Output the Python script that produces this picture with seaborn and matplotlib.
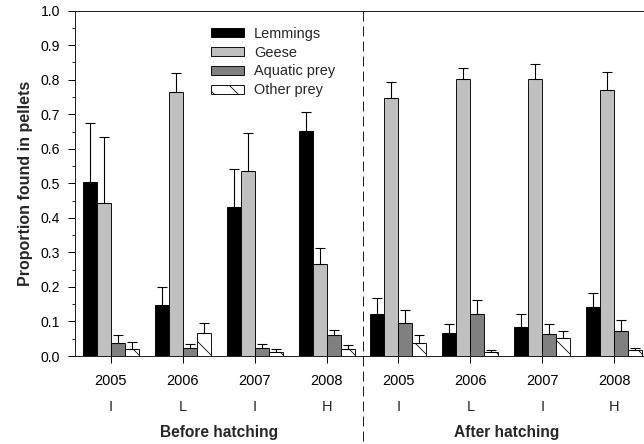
import numpy as np
import pandas as pd
import matplotlib
matplotlib.use("Agg")
import matplotlib.pyplot as plt
from matplotlib.lines import Line2D
import seaborn as sns

# ---- data ----
keys = ["B2005", "B2006", "B2007", "B2008", "A2005", "A2006", "A2007", "A2008"]
years = ["2005", "2006", "2007", "2008", "2005", "2006", "2007", "2008"]
classes = ["I", "L", "I", "H", "I", "L", "I", "H"]
periods = ["Before hatching", "After hatching"]
series = ["Lemmings", "Geese", "Aquatic prey", "Other prey"]

lemmings = [0.505, 0.148, 0.432, 0.653, 0.122, 0.067, 0.084, 0.141]
lemmings_se = [0.171, 0.052, 0.110, 0.055, 0.045, 0.027, 0.037, 0.042]
geese = [0.442, 0.766, 0.536, 0.267, 0.747, 0.803, 0.802, 0.770]
geese_se = [0.191, 0.053, 0.111, 0.046, 0.047, 0.031, 0.045, 0.052]
aquatic = [0.037, 0.022, 0.023, 0.060, 0.096, 0.121, 0.065, 0.072]
aquatic_se = [0.023, 0.013, 0.011, 0.014, 0.038, 0.041, 0.028, 0.033]
other = [0.019, 0.066, 0.012, 0.019, 0.039, 0.012, 0.051, 0.017]
other_se = [0.021, 0.031, 0.009, 0.013, 0.022, 0.006, 0.021, 0.007]

values = [lemmings, geese, aquatic, other]
errors = [lemmings_se, geese_se, aquatic_se, other_se]
colors = ["#000000", "#c0c0c0", "#808080", "#ffffff"]

rows = []
for s, vals in zip(series, values):
    for k, v in zip(keys, vals):
        rows.append({"key": k, "series": s, "value": v})
df = pd.DataFrame(rows)

# ---- figure ----
DPI = 72
W, H = 644, 444
sns.set_style("ticks")
plt.rcParams["font.family"] = ["Liberation Sans", "DejaVu Sans"]
plt.rcParams["hatch.linewidth"] = 0.8

fig = plt.figure(figsize=(W / DPI, H / DPI), dpi=DPI)
ax_left, ax_right, ax_bottom, ax_top = 75, 650, 356, 10.7
ax = fig.add_axes([ax_left / W, (H - ax_bottom) / H,
                   (ax_right - ax_left) / W, (ax_bottom - ax_top) / H])

sns.barplot(data=df, x="key", y="value", hue="series", order=keys,
            hue_order=series, palette=colors, width=0.78, gap=0,
            edgecolor="black", linewidth=0.9, errorbar=None,
            legend=False, ax=ax, saturation=1)

bar_containers = list(ax.containers)
for i, cont in enumerate(bar_containers):
    if series[i] == "Other prey":
        for p in cont.patches:
            p.set_hatch("\\")
    xs = [p.get_x() + p.get_width() / 2 for p in cont.patches]
    ys = [p.get_height() for p in cont.patches]
    ax.errorbar(xs, ys, yerr=[np.zeros(len(ys)), errors[i]], fmt="none",
                ecolor="black", elinewidth=1.1, capsize=5, capthick=1.1,
                zorder=3)

ax.set_xlim(-0.5, 7.5)
ax.set_ylim(0, 1.0)
ax.set_yticks(np.arange(0, 1.01, 0.1))
ax.set_yticks(np.arange(0.05, 1.0, 0.1), minor=True)
ax.yaxis.set_major_formatter(matplotlib.ticker.FormatStrFormatter("%.1f"))
ax.set_xticks(range(len(keys)))
ax.set_xticklabels(years)
ax.tick_params(axis="y", which="major", direction="out", length=7.5, width=1,
               labelsize=14, pad=7.5, colors="black")
ax.tick_params(axis="y", which="minor", direction="out", length=3.5, width=1)
ax.tick_params(axis="x", which="major", direction="out", length=7, width=1,
               labelsize=14.5, pad=11, colors="black")
for sp in ax.spines.values():
    sp.set_linewidth(1.0)
    sp.set_color("#222222")

ax.set_xlabel("")
ax.set_ylabel("Proportion found in pellets", fontsize=16, fontweight="bold",
              labelpad=7)

trans = ax.get_xaxis_transform()
for i, c in enumerate(classes):
    ax.text(i, -0.1468, c, transform=trans, ha="center", va="center",
            fontsize=14.5)
ax.text(1.5, -0.222, periods[0], transform=trans, ha="center", va="center",
        fontsize=15.5, fontweight="bold")
ax.text(5.5, -0.222, periods[1], transform=trans, ha="center", va="center",
        fontsize=15.5, fontweight="bold")

sep = Line2D([3.5, 3.5], [1.0, -0.26], transform=trans, clip_on=False,
             color="#222222", linewidth=1.0, dashes=(10, 5))
ax.add_line(sep)

ax.legend(handles=bar_containers, labels=series, loc="upper left",
          bbox_to_anchor=(0.2365, 0.953), frameon=False, fontsize=14.5,
          handlelength=2.28, handleheight=0.6, handletextpad=0.69,
          labelspacing=0.33, borderpad=0, borderaxespad=0)

fig.savefig("out.png", dpi=DPI)
